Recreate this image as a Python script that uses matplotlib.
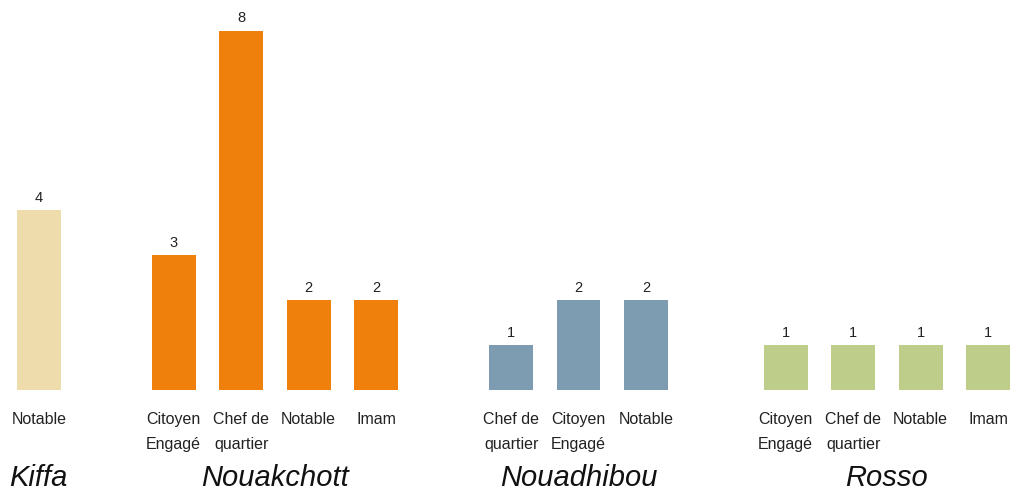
import matplotlib
matplotlib.use("Agg")
from matplotlib import pyplot as plt
from matplotlib.transforms import blended_transform_factory

plt.rcParams['font.family'] = ['Liberation Sans', 'DejaVu Sans']

# data
groups = ["Kiffa", "Nouakchott", "Nouadhibou", "Rosso"]
kiffa_labels = ["Notable"]
kiffa_values = [4]
nouakchott_labels = ["Citoyen\nEngagé", "Chef de\nquartier", "Notable", "Imam"]
nouakchott_values = [3, 8, 2, 2]
nouadhibou_labels = ["Chef de\nquartier", "Citoyen\nEngagé", "Notable"]
nouadhibou_values = [1, 2, 2]
rosso_labels = ["Citoyen\nEngagé", "Chef de\nquartier", "Notable", "Imam"]
rosso_values = [1, 1, 1, 1]
colors = ["#EEDCAD", "#EF800B", "#7D9CB1", "#BFCD8A"]

all_labels = [kiffa_labels, nouakchott_labels, nouadhibou_labels, rosso_labels]
all_values = [kiffa_values, nouakchott_values, nouadhibou_values, rosso_values]

fig = plt.figure(figsize=(10.1, 4.88), dpi=100)
ax = fig.add_axes([0, 98 / 488, 1, 390 / 488])
trans = blended_transform_factory(ax.transData, ax.transAxes)

pos = 0
gap = [0, 1, 1, 1.07]
for g, labels, values, col, gp in zip(groups, all_labels, all_values, colors, gap):
    pos += gp
    xs = []
    for lab, v in zip(labels, values):
        ax.bar(pos, v, width=0.65, color=col)
        ax.annotate(str(v), (pos, v), xytext=(0, 4), textcoords="offset points",
                    ha="center", va="bottom", fontsize=10.5, color="#222222")
        ax.text(pos, -0.057, lab, transform=trans, ha="center", va="top",
                fontsize=11.5, color="#222222", linespacing=1.85)
        xs.append(pos)
        pos += 1
    ax.text(sum(xs) / len(xs), -0.19, g, transform=trans, ha="center", va="top",
            fontsize=21, style="italic", color="#111111")

ax.set_xlim(-0.575, 14.395)
ax.set_ylim(0, 390 / 44.9)
ax.axis("off")

fig.savefig("out.png", dpi=100)
